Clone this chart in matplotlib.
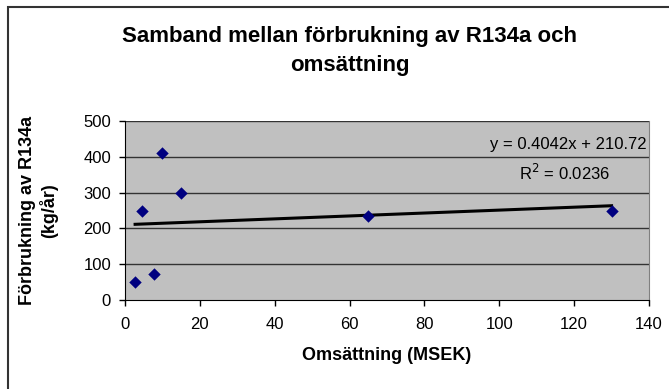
import matplotlib
matplotlib.use("Agg")
import matplotlib.pyplot as plt
import numpy as np
from matplotlib.patches import Rectangle

plt.rcParams['font.family'] = ['Liberation Sans', 'DejaVu Sans']

omsattning = [2.7, 4.5, 7.8, 10.0, 15.0, 65.0, 130.0]
forbrukning = [50, 250, 73, 410, 300, 235, 250]
x_ticks = [0, 20, 40, 60, 80, 100, 120, 140]
y_ticks = [0, 100, 200, 300, 400, 500]
title = "Samband mellan förbrukning av R134a och\nomsättning"
xlabel = "Omsättning (MSEK)"
ylabel = "Förbrukning av R134a\n(kg/år)"
eq_text = "y = 0.4042x + 210.72"
r2_text = "R$^2$ = 0.0236"

W, H = 669, 389
fig = plt.figure(figsize=(W / 100, H / 100), dpi=100)
fig.patch.set_facecolor('white')

# outer chart frame (extends beyond right/bottom edge)
fig.patches.append(Rectangle((8 / W, -0.1), 1.2, 1 - 7 / H + 0.1, transform=fig.transFigure,
                             fill=False, edgecolor='#333333', linewidth=1.5))

left, right, top, bottom = 125, 649, 121, 300
ax = fig.add_axes([left / W, 1 - bottom / H, (right - left) / W, (bottom - top) / H])
ax.set_facecolor('#C0C0C0')
ax.set_xlim(0, 140)
ax.set_ylim(0, 500)
ax.set_xticks(x_ticks)
ax.set_yticks(y_ticks)
ax.tick_params(direction='out', length=4, width=1, labelsize=12, colors='black')
ax.tick_params(axis='x', pad=8)
ax.tick_params(axis='y', pad=6)
for y in y_ticks[1:]:
    ax.axhline(y, color='#333333', linewidth=1, zorder=1)
ax.spines['left'].set_color('black')
ax.spines['bottom'].set_color('black')
ax.spines['top'].set_visible(False)
ax.spines['right'].set_color('#808080')

# trendline
coef = np.polyfit(omsattning, forbrukning, 1)
xs = np.array([min(omsattning), max(omsattning)])
ax.plot(xs, np.polyval(coef, xs), color='black', linewidth=2.2, zorder=2)

ax.scatter(omsattning, forbrukning, marker='D', s=40, color='#000080', zorder=3, linewidths=0)

ax.text(139.3, 433, eq_text, ha='right', va='center', fontsize=12)
ax.text(129.5, 355, r2_text, ha='right', va='center', fontsize=12)

ax.set_xlabel(xlabel, fontsize=13, fontweight='bold', labelpad=11)
ax.set_ylabel(ylabel, fontsize=13, fontweight='bold', labelpad=18)

fig.text(350 / W, 1 - 51 / H, title, ha='center', va='center', fontsize=16,
         fontweight='bold', linespacing=1.45)

fig.savefig('out.png', dpi=100)
